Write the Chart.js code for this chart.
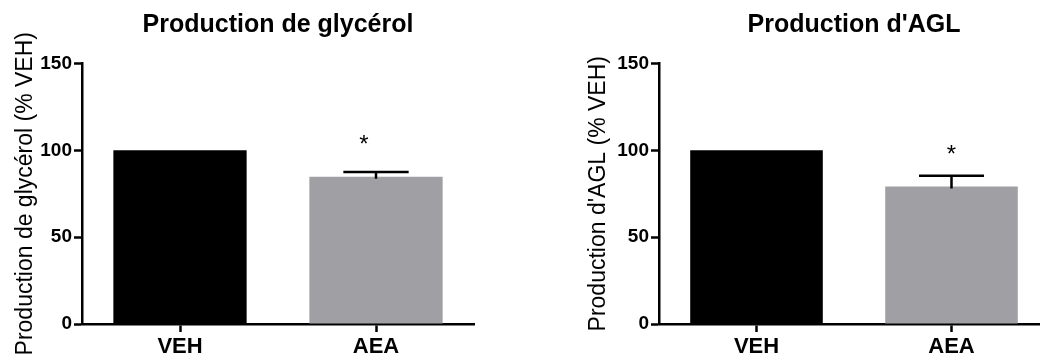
<!DOCTYPE html>
<html>
<head>
<meta charset="utf-8">
<script src="https://cdn.jsdelivr.net/npm/chart.js@4/dist/chart.umd.min.js"></script>
<style>
  html, body { margin: 0; padding: 0; background: #fff; overflow: hidden; width: 1040px; height: 358px; }
  canvas { position: absolute; top: 0; }
</style>
</head>
<body>
<canvas id="chartGly" width="490" height="358" style="left:0px"></canvas>
<canvas id="chartAgl" width="492" height="358" style="left:573px"></canvas>
<script>
// data
var groups = ["VEH", "AEA"];
var glyValues = [100, 84.8];
var glyErr = [0, 2.7];
var glyStar = [null, 107];
var aglValues = [100, 79.2];
var aglErr = [0, 6.2];
var aglStar = [null, 101.4];
var yTicks = [0, 50, 100, 150];

var barColors = ["#000000", "#a0a0a4"];
var fontFam = "'Liberation Sans', Arial, sans-serif";

// error bar (upper only) + significance star
var errPlugin = {
  id: "errbars",
  afterDatasetsDraw: function(chart, args, opts) {
    var ctx = chart.ctx;
    var meta = chart.getDatasetMeta(0);
    var yS = chart.scales.y;
    ctx.save();
    ctx.strokeStyle = "#000";
    ctx.fillStyle = "#000";
    ctx.lineWidth = 2.5;
    meta.data.forEach(function(bar, i) {
      var v = chart.data.datasets[0].data[i];
      var e = opts.err[i];
      if (e > 0) {
        var yTop = yS.getPixelForValue(v + e);
        var yBar = yS.getPixelForValue(v);
        var half = bar.width * 0.245;
        ctx.beginPath();
        ctx.moveTo(bar.x, yBar + 2);
        ctx.lineTo(bar.x, yTop);
        ctx.moveTo(bar.x - half, yTop);
        ctx.lineTo(bar.x + half, yTop);
        ctx.stroke();
      }
      if (opts.star[i] != null) {
        var ys = yS.getPixelForValue(opts.star[i]);
        ctx.font = "24px " + fontFam;
        ctx.textAlign = "center";
        ctx.textBaseline = "alphabetic";
        ctx.fillText("*", bar.x + opts.starDx, ys + 14);
      }
    });
    ctx.restore();
  }
};

function makeChart(id, title, yTitle, values, err, star, starDx, yWidth) {
  return new Chart(id, {
    type: "bar",
    data: {
      labels: groups,
      datasets: [{
        data: values,
        backgroundColor: barColors,
        borderWidth: 0,
        barPercentage: 0.68,
        categoryPercentage: 1.0
      }]
    },
    options: {
      responsive: false,
      animation: false,
      layout: { padding: { right: 16, left: 0, top: 0, bottom: 0 } },
      plugins: {
        legend: { display: false },
        tooltip: { enabled: false },
        title: {
          display: true,
          fullSize: false,
          text: title,
          color: "#000",
          font: { family: fontFam, size: 25, weight: "bold" },
          padding: { top: 10, bottom: 23.5 }
        },
        errbars: { err: err, star: star, starDx: starDx }
      },
      scales: {
        x: {
          afterFit: function(s) { s.height = 34; },
          border: { color: "#000", width: 2.5 },
          grid: { display: true, offset: false, drawOnChartArea: false, drawTicks: true, tickLength: 8, tickWidth: 2.5, tickColor: "#000" },
          ticks: { color: "#000", padding: 2, font: { family: fontFam, size: 22, weight: "bold" } }
        },
        y: {
          min: 0,
          max: 150,
          afterFit: function(s) { s.width = yWidth; },
          afterBuildTicks: function(s) { s.ticks = yTicks.map(function(v) { return { value: v }; }); },
          border: { color: "#000", width: 2.5 },
          grid: { display: true, drawOnChartArea: false, drawTicks: true, tickLength: 8, tickWidth: 2.5, tickColor: "#000" },
          ticks: { color: "#000", padding: 2, font: { family: fontFam, size: 19, weight: "bold" } },
          title: {
            display: true,
            text: yTitle,
            color: "#000",
            font: { family: fontFam, size: 23 },
            padding: { top: 12, bottom: 0 }
          }
        }
      }
    },
    plugins: [errPlugin]
  });
}

makeChart("chartGly", "Production de glycérol", "Production de glycérol (% VEH)", glyValues, glyErr, glyStar, -12, 82);
makeChart("chartAgl", "Production d'AGL", "Production d'AGL (% VEH)", aglValues, aglErr, aglStar, 0, 86);
</script>
</body>
</html>
